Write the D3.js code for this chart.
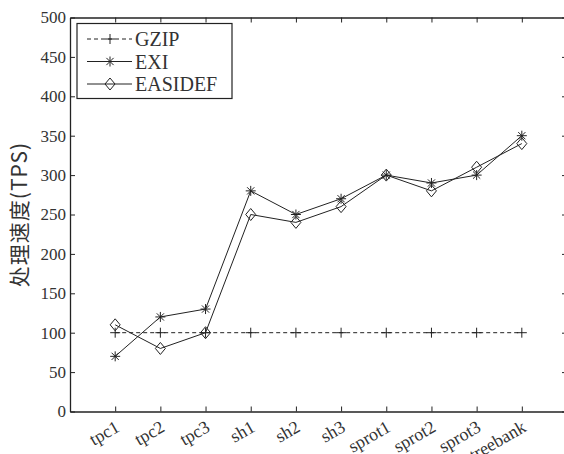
<!DOCTYPE html>
<html><head><meta charset="utf-8">
<script src="https://cdn.jsdelivr.net/npm/d3@7/dist/d3.min.js"></script>
<style>body{margin:0;background:#fff}svg{display:block}</style>
</head><body><svg id="c" width="564" height="454"></svg>
<script>
const categories = ["tpc1","tpc2","tpc3","sh1","sh2","sh3","sprot1","sprot2","sprot3","treebank"];
const gzip    = [100,100,100,100,100,100,100,100,100,100];
const exi     = [70,120,130,280,250,270,300,290,300,350];
const easidef = [110,80,100,250,240,260,300,280,310,340];
const yTicks  = [0,50,100,150,200,250,300,350,400,450,500];
const seriesNames = ["GZIP","EXI","EASIDEF"];

const svg = d3.select("#c");
const L=70, R=567, T=17.5, B=411.5;
const x = d3.scaleLinear().domain([0,11]).range([L,R]);
const y = d3.scaleLinear().domain([0,500]).range([B,T]);
const idx = categories.map((_,i)=>i+1);
const serif = "'Liberation Serif','DejaVu Serif',serif";
const col = "#222";

// axes
const gB = svg.append("g").attr("transform",`translate(0,${B})`)
  .call(d3.axisBottom(x).tickValues(idx).tickFormat(i=>categories[i-1]).tickSizeInner(-5).tickSizeOuter(0).tickPadding(8));
const gT = svg.append("g").attr("transform",`translate(0,${T})`)
  .call(d3.axisTop(x).tickValues(idx).tickFormat("").tickSizeInner(-5).tickSizeOuter(0));
const gL = svg.append("g").attr("transform",`translate(${L},0)`)
  .call(d3.axisLeft(y).tickValues(yTicks).tickSizeInner(-5).tickSizeOuter(0).tickPadding(4));
const gR = svg.append("g").attr("transform",`translate(${R},0)`)
  .call(d3.axisRight(y).tickValues(yTicks).tickFormat("").tickSizeInner(-5).tickSizeOuter(0));
svg.selectAll(".domain").attr("stroke",col).attr("stroke-width",1.3);
svg.selectAll(".tick line").attr("stroke",col).attr("stroke-width",1);
svg.selectAll(".tick text").attr("font-family",serif).attr("font-size",17).attr("fill","#333");
gB.selectAll("text").attr("text-anchor","end").attr("x",0).attr("y",0).attr("dy",null)
  .attr("font-size",18).attr("transform","translate(5,19) rotate(-30)");

// y title
svg.append("text").attr("transform",`translate(27,${(T+B)/2}) rotate(-90)`)
  .attr("text-anchor","middle").attr("font-family","'Noto Sans CJK SC',sans-serif")
  .attr("font-size",21).attr("letter-spacing",1).attr("fill","#333").text("处理速度(TPS)");

// markers
function plus(g,cx,cy){ g.append("path").attr("d",`M${cx-5},${cy}H${cx+5}M${cx},${cy-5}V${cy+5}`).attr("stroke",col).attr("fill","none").attr("stroke-width",1); }
function star(g,cx,cy){ const r=5, d=3.6;
  g.append("path").attr("d",`M${cx-r},${cy}H${cx+r}M${cx},${cy-r}V${cy+r}M${cx-d},${cy-d}L${cx+d},${cy+d}M${cx-d},${cy+d}L${cx+d},${cy-d}`).attr("stroke",col).attr("fill","none").attr("stroke-width",1); }
function diamond(g,cx,cy){ g.append("path").attr("d",`M${cx},${cy-6}L${cx+5},${cy}L${cx},${cy+6}L${cx-5},${cy}Z`).attr("stroke",col).attr("fill","none").attr("stroke-width",1); }

const series = [
  {name:seriesNames[0], vals:gzip, dash:"4,3", mk:plus},
  {name:seriesNames[1], vals:exi, dash:null, mk:star},
  {name:seriesNames[2], vals:easidef, dash:null, mk:diamond}
];
const line = d3.line().x((d,i)=>x(i+1)).y(d=>y(d));
series.forEach(s=>{
  const g = svg.append("g");
  g.append("path").attr("d",line(s.vals)).attr("fill","none").attr("stroke",col).attr("stroke-width",1)
    .attr("stroke-dasharray",s.dash);
  s.vals.forEach((v,i)=>s.mk(g,x(i+1),y(v)));
});

// legend
const lg = svg.append("g");
lg.append("rect").attr("x",77).attr("y",23.5).attr("width",155).attr("height",75).attr("fill","#fff").attr("stroke",col).attr("stroke-width",1.2);
series.forEach((s,k)=>{
  const yy = 39 + k*22.5;
  lg.append("line").attr("x1",87).attr("x2",132).attr("y1",yy).attr("y2",yy).attr("stroke",col).attr("stroke-width",1).attr("stroke-dasharray",s.dash);
  s.mk(lg,110,yy);
  lg.append("text").attr("x",135).attr("y",yy).attr("dy","0.35em").attr("font-family",serif).attr("font-size",20).attr("fill","#333").text(s.name);
});
</script></body></html>
